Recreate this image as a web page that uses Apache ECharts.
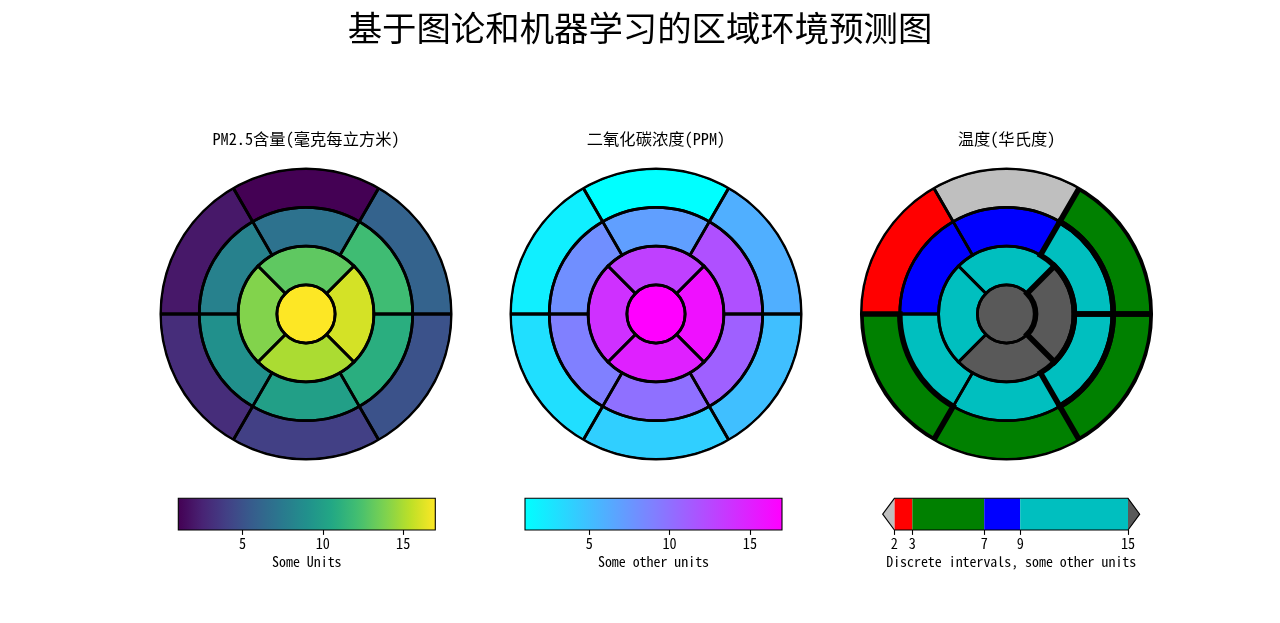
<!DOCTYPE html>
<html>
<head>
<meta charset="utf-8">
<script src="https://cdn.jsdelivr.net/npm/echarts@6/dist/echarts.min.js"></script>
<style>html,body{margin:0;padding:0;background:#fff}#c{width:1280px;height:623px}</style>
</head>
<body>
<div id="c"></div>
<script>
// ---------------- data ----------------
const mainTitle = '基于图论和机器学习的区域环境预测图';
const subTitles = ['PM2.5含量(毫克每立方米)', '二氧化碳浓度(PPM)', '温度(华氏度)'];
// segment values (AHA 17 segments): outer ring 1-6, middle 7-12, inner 13-16, center 17
const outerRing = [1, 2, 3, 4, 5, 6];
const middleRing = [7, 8, 9, 10, 11, 12];
const innerRing = [13, 14, 15, 16];
const centerDisc = [17];
const boldSegments = [3, 5, 6, 11, 12, 16];   // bold borders in third plot
const normRange = [1, 17];
const contTicks = [5, 10, 15];
const discreteBounds = [2, 3, 7, 9, 15];
const discreteColors = ['#ff0000', '#008000', '#0000ff', '#00bfbf'];
const underColor = '#bfbfbf', overColor = '#595959';
const cbarNames = ['Some Units', 'Some other units', 'Discrete intervals, some other units'];

// ---------------- colormaps ----------------
const viridisStops = ['#440154','#482576','#414487','#35608D','#2A788E','#21908C','#22A884','#43BF71','#7AD151','#BBDF27','#FDE725'];
function hex2rgb(h){h=h.replace('#','');return [parseInt(h.substr(0,2),16),parseInt(h.substr(2,2),16),parseInt(h.substr(4,2),16)];}
function rgb(a){return 'rgb('+a.map(v=>Math.round(v)).join(',')+')';}
function viridis(x){
  x=Math.max(0,Math.min(1,x));
  const n=viridisStops.length-1, p=x*n, i=Math.min(Math.floor(p),n-1), f=p-i;
  const a=hex2rgb(viridisStops[i]), b=hex2rgb(viridisStops[i+1]);
  return rgb(a.map((v,k)=>v+(b[k]-v)*f));
}
function cool(x){x=Math.max(0,Math.min(1,x));return rgb([255*x,255*(1-x),255]);}
function norm(v){return (v-normRange[0])/(normRange[1]-normRange[0]);}
function discrete(v){
  if(v<discreteBounds[0]) return underColor;
  if(v>=discreteBounds[discreteBounds.length-1]) return overColor;
  for(let i=0;i<discreteBounds.length-1;i++){ if(v>=discreteBounds[i]&&v<discreteBounds[i+1]) return discreteColors[i]; }
}
const cmaps=[v=>viridis(norm(v)), v=>cool(norm(v)), discrete];

// ---------------- layout ----------------
const centers=[[306,314],[656,314],[1006.5,314]];
const R=145.5;
const rFrac=[0.2,0.4667,0.7333,1];
const rings=[
  {vals:outerRing, rin:rFrac[2], rout:rFrac[3]},
  {vals:middleRing, rin:rFrac[1], rout:rFrac[2]},
  {vals:innerRing, rin:rFrac[0], rout:rFrac[1]},
  {vals:centerDisc, rin:0, rout:rFrac[0]}
];
const LW=2.78, LWB=5.56;
const pieBase={type:'pie',silent:true,animation:false,label:{show:false},labelLine:{show:false},
  emphasis:{disabled:true},avoidLabelOverlap:false,minAngle:0};

const series=[];
centers.forEach((c,pi)=>{
  const cm=cmaps[pi];
  const bold = pi===2 ? boldSegments : [];
  rings.forEach(rg=>{
    const n=rg.vals.length;
    series.push(Object.assign({},pieBase,{center:c,radius:[rg.rin*R,rg.rout*R],startAngle:n>1?90-180/n:90,clockwise:false,
      z:1,data:rg.vals.map(v=>({value:1,name:'s'+v,itemStyle:{color:cm(v),borderWidth:0}}))}));
  });
  rings.forEach(rg=>{
    const n=rg.vals.length;
    series.push(Object.assign({},pieBase,{center:c,radius:[rg.rin*R,rg.rout*R],startAngle:n>1?90-180/n:90,clockwise:false,
      z:2,data:rg.vals.map(v=>({value:1,name:'b'+v,itemStyle:{color:'rgba(0,0,0,0)',borderColor:'#000',borderWidth:bold.indexOf(v)>=0?LWB:LW,borderJoin:'miter'}}))}));
  });
  // clip: cover stroke parts outside the axes circle
  series.push(Object.assign({},pieBase,{center:c,radius:[R,R+5],z:3,
    data:[{value:1,itemStyle:{color:'#fff',borderWidth:0}}]}));
  // outer circle
  series.push(Object.assign({},pieBase,{center:c,radius:[0,R],z:4,
    data:[{value:1,itemStyle:{color:'rgba(0,0,0,0)',borderColor:'#000',borderWidth:2.08}}]}));
});

// ---------------- colorbars ----------------
const cbTop=498.3, cbH=31.7;
const cbLeft=[178.3,525,882.7], cbW=257;
const ext=0.05*(discreteBounds[discreteBounds.length-1]-discreteBounds[0]);
const labelFont="'Noto Sans Mono CJK SC','Noto Sans CJK SC',monospace";
const grids=[],xAxes=[],yAxes=[];
for(let i=0;i<3;i++){
  grids.push({left:cbLeft[i],top:cbTop,width:cbW,height:cbH,show:false});
  const ticks = i<2 ? contTicks : discreteBounds;
  xAxes.push({type:'value',gridIndex:i,
    min: i<2?normRange[0]:discreteBounds[0]-ext,
    max: i<2?normRange[1]:discreteBounds[discreteBounds.length-1]+ext,
    axisLine:{show:false},splitLine:{show:false},
    axisTick:{show:true,customValues:ticks,length:4.9,lineStyle:{color:'#000',width:1.1}},
    axisLabel:{show:true,customValues:ticks,margin:7,color:'#000',fontSize:14.2,fontFamily:labelFont},
    name:cbarNames[i],nameLocation:'middle',nameGap:25,nameTextStyle:{color:'#000',fontSize:13.9,fontFamily:labelFont}});
  yAxes.push({type:'value',gridIndex:i,min:0,max:1,show:false});
}
function gradStops(fn){const s=[];for(let k=0;k<=32;k++){s.push({offset:k/32,color:fn(normRange[0]+k/32*(normRange[1]-normRange[0]))});}return s;}
[0,1].forEach(i=>{
  series.push({type:'custom',xAxisIndex:i,yAxisIndex:i,clip:false,silent:true,animation:false,z:5,
    data:[[normRange[0],normRange[1]]],
    renderItem:function(params,api){
      const p0=api.coord([api.value(0),1]), p1=api.coord([api.value(1),0]);
      return {type:'group',children:[
        {type:'rect',shape:{x:p0[0],y:p0[1],width:p1[0]-p0[0],height:p1[1]-p0[1]},
         style:{fill:new echarts.graphic.LinearGradient(0,0,1,0,gradStops(cmaps[i]))}},
        {type:'rect',shape:{x:p0[0],y:p0[1],width:p1[0]-p0[0],height:p1[1]-p0[1]},
         style:{fill:'none',stroke:'#000',lineWidth:1.1}}
      ]};
    }});
});
// discrete colorbar
const discData=discreteColors.map((col,k)=>[discreteBounds[k],discreteBounds[k+1],k]);
series.push({type:'custom',xAxisIndex:2,yAxisIndex:2,clip:false,silent:true,animation:false,z:5,
  data:discData,
  renderItem:function(params,api){
    const a=api.value(0), b=api.value(1), k=api.value(2);
    const p0=api.coord([a,1]), p1=api.coord([b,0]);
    return {type:'rect',shape:{x:p0[0],y:p0[1],width:p1[0]-p0[0],height:p1[1]-p0[1]},style:{fill:discreteColors[k]}};
  }});
const lo=discreteBounds[0], hi=discreteBounds[discreteBounds.length-1];
series.push({type:'custom',xAxisIndex:2,yAxisIndex:2,clip:false,silent:true,animation:false,z:6,
  data:[[lo,hi]],
  renderItem:function(params,api){
    const L=api.value(0), H=api.value(1);
    const c=(x,y)=>api.coord([x,y]);
    return {type:'group',children:[
      {type:'polygon',shape:{points:[c(L,0),c(L,1),c(L-ext,0.5)]},style:{fill:underColor}},
      {type:'polygon',shape:{points:[c(H,0),c(H,1),c(H+ext,0.5)]},style:{fill:overColor}},
      {type:'polygon',shape:{points:[c(L-ext,0.5),c(L,1),c(H,1),c(H+ext,0.5),c(H,0),c(L,0)]},style:{fill:'none',stroke:'#000',lineWidth:1.1}}
    ]};
  }});

// ---------------- titles ----------------
const titles=[{text:mainTitle,left:640,textAlign:'center',top:11,padding:0,
  textStyle:{fontSize:34.4,fontWeight:'normal',color:'#000',fontFamily:"'Noto Sans CJK SC'"}}];
subTitles.forEach((t,i)=>titles.push({text:t,left:centers[i][0],textAlign:'center',top:131,padding:0,
  textStyle:{fontSize:16.3,fontWeight:'normal',color:'#000',fontFamily:labelFont}}));

const chart=echarts.init(document.getElementById('c'),null,{renderer:'canvas'});
chart.setOption({backgroundColor:'#fff',animation:false,title:titles,grid:grids,xAxis:xAxes,yAxis:yAxes,series:series});
</script>
</body>
</html>
